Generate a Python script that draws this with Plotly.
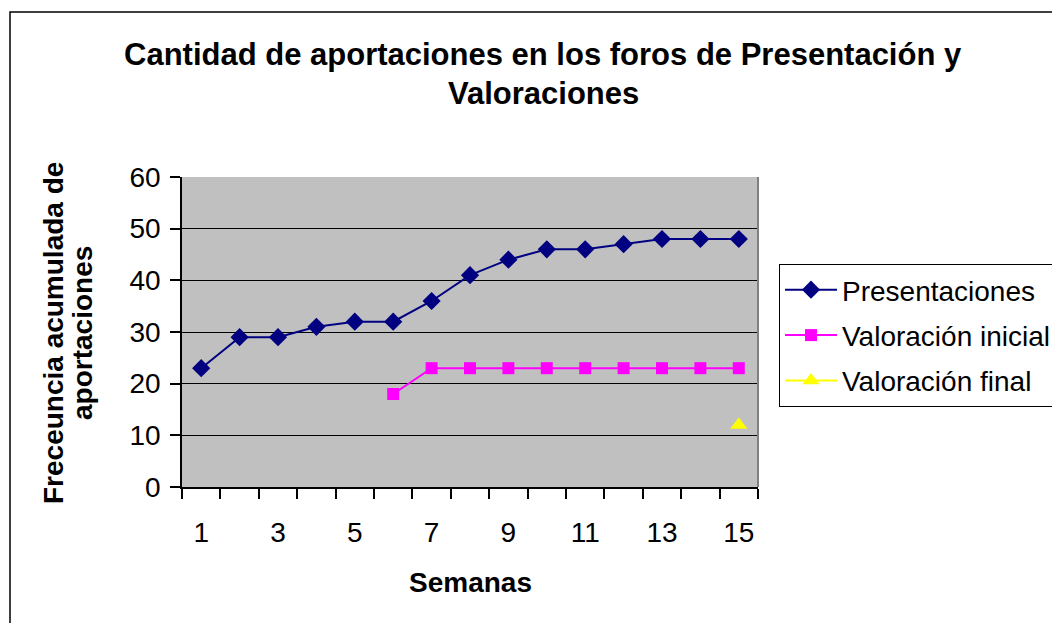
import plotly.graph_objects as go

weeks = list(range(1, 16))
presentaciones = [23, 29, 29, 31, 32, 32, 36, 41, 44, 46, 46, 47, 48, 48, 48]
valoracion_inicial = [None, None, None, None, None, 18, 23, 23, 23, 23, 23, 23, 23, 23, 23]
valoracion_final = [None] * 14 + [12]

W, H = 1060, 623
OFF = 8  # page body margin
# target page coordinates of plot area
PL, PR, PT, PB = 182, 758, 177, 487
L, T = PL - OFF, PT - OFF
R, B = W - (PR - OFF), H - (PB - OFF)
PW, PH = PR - PL, PB - PT

def px(x):
    return (x - PL) / PW

def py(y):
    return (PB - y) / PH

FONT = "Liberation Sans, Arial, sans-serif"

fig = go.Figure()
fig.add_trace(go.Scatter(x=weeks, y=presentaciones, name="Presentaciones", mode="lines+markers",
                         line=dict(color="#000080", width=2),
                         marker=dict(symbol="diamond", size=14, color="#000080"),
                         legendgroup="a"))
fig.add_trace(go.Scatter(x=weeks, y=valoracion_inicial, name="Valoración inicial", mode="lines+markers",
                         line=dict(color="#FF00FF", width=2),
                         marker=dict(symbol="square", size=12, color="#FF00FF"),
                         legendgroup="b"))
fig.add_trace(go.Scatter(x=weeks, y=valoracion_final, name="Valoración final", mode="lines+markers",
                         line=dict(color="#FFFF00", width=2),
                         marker=dict(symbol="triangle-up", size=15, color="#FFFF00"),
                         legendgroup="c"))

fig.update_layout(
    width=W, height=H,
    margin=dict(l=L, r=R, t=T, b=B, autoexpand=False),
    paper_bgcolor="white", plot_bgcolor="#C0C0C0",
    font=dict(family=FONT, size=28, color="black"),
    showlegend=True,
    legend=dict(x=px(779), y=py(264), xanchor="left", yanchor="top",
                bgcolor="white", bordercolor="black", borderwidth=1,
                font=dict(size=28), traceorder="grouped", tracegroupgap=6,
                itemwidth=52),
    xaxis=dict(range=[0.5, 15.5], tickmode="linear", tick0=1, dtick=2,
               ticks="", showgrid=False, zeroline=False,
               showline=True, linecolor="black", linewidth=1.5,
               ticklabelstandoff=20,
               minor=dict(tickmode="linear", tick0=0.5, dtick=1, ticks="outside",
                          ticklen=10, tickcolor="black", tickwidth=1.5, showgrid=False)),
    yaxis=dict(range=[0, 60], tickmode="linear", tick0=0, dtick=10,
               ticks="outside", ticklen=10, tickcolor="black", tickwidth=1.5,
               showgrid=True, gridcolor="black", gridwidth=1, zeroline=False,
               showline=True, linecolor="black", linewidth=1.5,
               ticklabelstandoff=4),
    annotations=[
        dict(text="<b>Cantidad de aportaciones en los foros de Presentación y</b>",
             xref="paper", yref="paper", x=px(543), y=py(54), xanchor="center", yanchor="middle",
             showarrow=False, font=dict(size=31)),
        dict(text="<b>Valoraciones</b>",
             xref="paper", yref="paper", x=px(543), y=py(94), xanchor="center", yanchor="middle",
             showarrow=False, font=dict(size=31)),
        dict(text="<b>Semanas</b>", xref="paper", yref="paper", x=px(470), y=py(582),
             xanchor="center", yanchor="middle", showarrow=False, font=dict(size=28)),
        dict(text="<b>Freceuncia acumulada de</b>", xref="paper", yref="paper", x=px(53), y=py(333),
             xanchor="center", yanchor="middle", textangle=-90, showarrow=False, font=dict(size=28)),
        dict(text="<b>aportaciones</b>", xref="paper", yref="paper", x=px(82), y=py(333),
             xanchor="center", yanchor="middle", textangle=-90, showarrow=False, font=dict(size=28)),
    ],
    shapes=[
        dict(type="rect", xref="paper", yref="paper", x0=px(10), x1=px(1080), y0=py(12), y1=py(660),
             line=dict(color="black", width=1.5), layer="below"),
        dict(type="line", xref="paper", yref="paper", x0=1, x1=1, y0=0, y1=1,
             line=dict(color="#808080", width=2), layer="above"),
    ],
)

fig.write_html("out.html")
